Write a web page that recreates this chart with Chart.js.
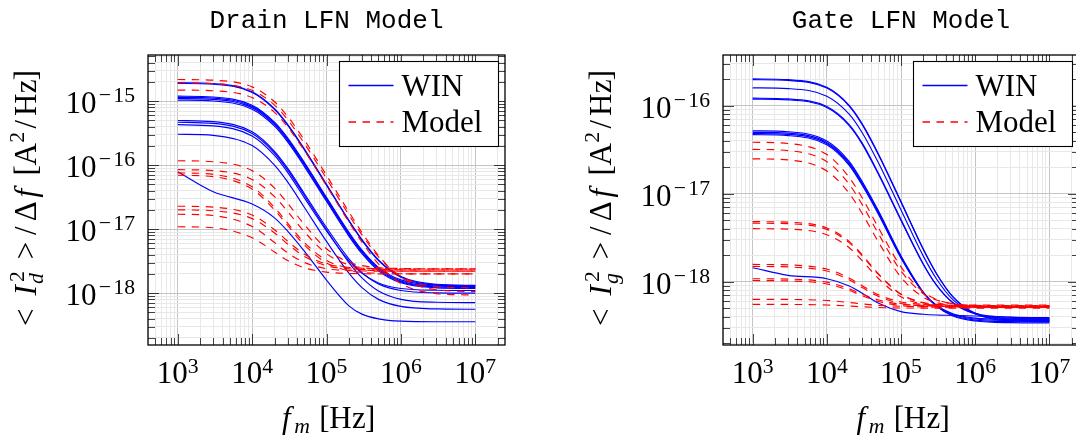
<!DOCTYPE html>
<html><head><meta charset="utf-8">
<script src="https://cdn.jsdelivr.net/npm/chart.js@4.4.0/dist/chart.umd.min.js"></script>
<style>
html,body{margin:0;padding:0;background:#fff;overflow:hidden;}
#wrap{position:relative;width:1076px;height:441px;overflow:hidden;background:#fff;}
canvas{position:absolute;top:0;}
</style></head><body>
<div id="wrap">
<canvas id="c1" width="540" height="441" style="left:0;width:540px;height:441px"></canvas>
<canvas id="c2" width="550" height="441" style="left:540px;width:550px;height:441px"></canvas>
</div>
<script>
// ---------- data ----------
const freq = [1e3, 3e3, 1e4, 2e4, 3e4, 5e4, 1e5, 2e5, 3e5, 5e5, 1e6, 3e6, 1e7];

const legendLabels = ['WIN', 'Model'];
const titles = ['Drain LFN Model', 'Gate LFN Model'];
const xTickExp = [3, 4, 5, 6, 7];
const drainYExp = [-15, -16, -17, -18];
const gateYExp = [-16, -17, -18];

// Drain – WIN
const dW1 = [1.94e-15, 1.88e-15, 1.40e-15, 7.6e-16, 4.32e-16, 1.81e-16, 5.0e-17, 1.37e-17, 6.85e-18, 3.31e-18, 1.82e-18, 1.375e-18, 1.325e-18];
const dW2 = [1.89e-15, 1.835e-15, 1.366e-15, 7.41e-16, 4.21e-16, 1.765e-16, 4.87e-17, 1.34e-17, 6.67e-18, 3.22e-18, 1.77e-18, 1.334e-18, 1.285e-18];
const dW3 = [1.195e-15, 1.159e-15, 8.63e-16, 4.68e-16, 2.66e-16, 1.115e-16, 3.13e-17, 8.93e-18, 4.70e-18, 2.53e-18, 1.61e-18, 1.334e-18, 1.303e-18];
const dW4 = [1.145e-15, 1.111e-15, 8.27e-16, 4.49e-16, 2.55e-16, 1.068e-16, 3.0e-17, 8.57e-18, 4.52e-18, 2.44e-18, 1.55e-18, 1.293e-18, 1.263e-18];
const dW5 = [1.096e-15, 1.063e-15, 7.91e-16, 4.29e-16, 2.44e-16, 1.022e-16, 2.87e-17, 8.22e-18, 4.34e-18, 2.35e-18, 1.50e-18, 1.25e-18, 1.223e-18];
const dW6 = [1.036e-15, 1.005e-15, 7.48e-16, 4.06e-16, 2.30e-16, 9.66e-17, 2.72e-17, 7.79e-18, 4.13e-18, 2.24e-18, 1.45e-18, 1.21e-18, 1.183e-18];
const dW7 = [4.98e-16, 4.78e-16, 3.31e-16, 1.645e-16, 8.95e-17, 3.64e-17, 1.06e-17, 3.44e-18, 2.09e-18, 1.39e-18, 1.10e-18, 1.011e-18, 1.001e-18];
const dW8 = [4.68e-16, 4.49e-16, 3.11e-16, 1.546e-16, 8.41e-17, 3.42e-17, 9.75e-18, 3.0e-18, 1.73e-18, 1.08e-18, 8.0e-19, 7.2e-19, 7.11e-19];
const dW9 = [4.28e-16, 4.11e-16, 2.85e-16, 1.415e-16, 7.7e-17, 3.13e-17, 9.37e-18, 3.2e-18, 2.04e-18, 1.44e-18, 1.18e-18, 1.11e-18, 1.10e-18];
const dW10 = [3.03e-16, 2.92e-16, 2.02e-16, 1.0e-16, 5.46e-17, 2.22e-17, 6.43e-18, 2.05e-18, 1.22e-18, 7.99e-19, 6.2e-19, 5.67e-19, 5.6e-19];
const dW11 = [7.87e-17, 3.83e-17, 2.46e-17, 1.50e-17, 9.3e-18, 4.58e-18, 1.60e-18, 6.34e-19, 4.70e-19, 3.97e-19, 3.65e-19, 3.57e-19, 3.57e-19];

// Drain – Model
const dM1 = [2.173e-15, 2.121e-15, 1.666e-15, 9.76e-16, 5.77e-16, 2.50e-16, 6.95e-17, 1.86e-17, 8.87e-18, 3.87e-18, 1.76e-18, 1.13e-18, 1.057e-18];
const dM2 = [1.924e-15, 1.878e-15, 1.475e-15, 8.64e-16, 5.11e-16, 2.21e-16, 6.18e-17, 1.67e-17, 8.12e-18, 3.70e-18, 1.83e-18, 1.27e-18, 1.206e-18];
const dM3 = [1.485e-15, 1.450e-15, 1.138e-15, 6.67e-16, 3.94e-16, 1.71e-16, 4.77e-17, 1.29e-17, 6.27e-18, 2.86e-18, 1.41e-18, 9.84e-19, 9.35e-19];
const dM4 = [1.17e-16, 1.13e-16, 8.2e-17, 4.38e-17, 2.54e-17, 1.19e-17, 4.93e-18, 3.04e-18, 2.69e-18, 2.50e-18, 2.43e-18, 2.40e-18, 2.40e-18];
const dM5 = [8.49e-17, 8.21e-17, 5.97e-17, 3.22e-17, 1.89e-17, 9.16e-18, 4.13e-18, 2.76e-18, 2.51e-18, 2.38e-18, 2.32e-18, 2.30e-18, 2.30e-18];
const dM6 = [7.57e-17, 7.18e-17, 4.59e-17, 2.18e-17, 1.24e-17, 6.23e-18, 3.25e-18, 2.47e-18, 2.32e-18, 2.24e-18, 2.21e-18, 2.20e-18, 2.20e-18];
const dM7 = [6.95e-17, 6.6e-17, 4.21e-17, 2.0e-17, 1.14e-17, 5.7e-18, 2.97e-18, 2.24e-18, 2.11e-18, 2.04e-18, 2.01e-18, 2.0e-18, 2.0e-18];
const dM8 = [2.28e-17, 2.21e-17, 1.66e-17, 9.78e-18, 6.5e-18, 4.09e-18, 2.85e-18, 2.52e-18, 2.45e-18, 2.42e-18, 2.40e-18, 2.40e-18, 2.40e-18];
const dM9 = [2.0e-17, 1.94e-17, 1.46e-17, 8.71e-18, 5.86e-18, 3.77e-18, 2.69e-18, 2.40e-18, 2.34e-18, 2.32e-18, 2.30e-18, 2.30e-18, 2.30e-18];
const dM10 = [1.71e-17, 1.63e-17, 1.1e-17, 6.18e-18, 4.27e-18, 3.02e-18, 2.41e-18, 2.25e-18, 2.22e-18, 2.21e-18, 2.20e-18, 2.2e-18, 2.2e-18];
const dM11 = [1.09e-17, 1.05e-17, 7.31e-18, 4.39e-18, 3.24e-18, 2.49e-18, 2.13e-18, 2.03e-18, 2.01e-18, 2.0e-18, 2.0e-18, 2.0e-18, 2.0e-18];

// Gate – WIN
const gW1 = [2.015e-16, 1.976e-16, 1.616e-16, 1.01e-16, 6.22e-17, 2.79e-17, 8.13e-18, 2.35e-18, 1.24e-18, 6.73e-19, 4.31e-19, 3.59e-19, 3.51e-19];
const gW2 = [1.975e-16, 1.936e-16, 1.584e-16, 9.9e-17, 6.09e-17, 2.73e-17, 7.98e-18, 2.32e-18, 1.24e-18, 6.77e-19, 4.39e-19, 3.69e-19, 3.61e-19];
const gW3 = [1.596e-16, 1.565e-16, 1.28e-16, 8.0e-17, 4.92e-17, 2.21e-17, 6.53e-18, 1.95e-18, 1.08e-18, 6.26e-19, 4.34e-19, 3.77e-19, 3.71e-19];
const gW4 = [1.217e-16, 1.193e-16, 9.76e-17, 6.1e-17, 3.75e-17, 1.68e-17, 5.08e-18, 1.59e-18, 9.19e-19, 5.75e-19, 4.29e-19, 3.85e-19, 3.8e-19];
const gW5 = [1.187e-16, 1.164e-16, 9.52e-17, 5.95e-17, 3.66e-17, 1.64e-17, 4.97e-18, 1.57e-18, 9.16e-19, 5.8e-19, 4.38e-19, 3.95e-19, 3.9e-19];
const gW6 = [5.18e-17, 5.06e-17, 3.97e-17, 2.33e-17, 1.376e-17, 6.3e-18, 1.97e-18, 7.58e-19, 5.27e-19, 4.07e-19, 3.57e-19, 3.42e-19, 3.4e-19];
const gW7 = [4.98e-17, 4.87e-17, 3.82e-17, 2.24e-17, 1.32e-17, 6.09e-18, 1.92e-18, 7.5e-19, 5.29e-19, 4.15e-19, 3.66e-19, 3.52e-19, 3.5e-19];
const gW8 = [4.83e-17, 4.72e-17, 3.71e-17, 2.17e-17, 1.28e-17, 5.92e-18, 1.88e-18, 7.49e-19, 5.34e-19, 4.23e-19, 3.76e-19, 3.62e-19, 3.6e-19];
const gW9 = [4.69e-17, 4.57e-17, 3.59e-17, 2.10e-17, 1.244e-17, 5.76e-18, 1.85e-18, 7.47e-19, 5.39e-19, 4.31e-19, 3.85e-19, 3.72e-19, 3.7e-19];
const gW10 = [1.44e-18, 1.18e-18, 1.08e-18, 8.93e-19, 7.37e-19, 5.67e-19, 4.56e-19, 4.26e-19, 4.18e-19, 4.14e-19, 4.07e-19, 3.94e-19, 3.83e-19];

// Gate – Model
const gM1 = [3.84e-17, 3.72e-17, 2.78e-17, 1.53e-17, 8.94e-18, 4.05e-18, 1.47e-18, 7.62e-19, 6.28e-19, 5.59e-19, 5.3e-19, 5.2e-19, 5.2e-19];
const gM2 = [3.19e-17, 3.09e-17, 2.31e-17, 1.28e-17, 7.51e-18, 3.46e-18, 1.32e-18, 7.3e-19, 6.19e-19, 5.62e-19, 5.38e-19, 5.31e-19, 5.3e-19];
const gM3 = [2.49e-17, 2.42e-17, 1.81e-17, 1.01e-17, 5.94e-18, 2.79e-18, 1.12e-18, 6.66e-19, 5.79e-19, 5.35e-19, 5.16e-19, 5.1e-19, 5.1e-19];
const gM4 = [4.81e-18, 4.74e-18, 4.08e-18, 2.87e-18, 2.02e-18, 1.22e-18, 7.19e-19, 5.71e-19, 5.43e-19, 5.28e-19, 5.22e-19, 5.2e-19, 5.2e-19];
const gM5 = [4.62e-18, 4.56e-18, 3.93e-18, 2.78e-18, 1.96e-18, 1.2e-18, 7.19e-19, 5.79e-19, 5.52e-19, 5.38e-19, 5.32e-19, 5.3e-19, 5.3e-19];
const gM6 = [4.0e-18, 3.95e-18, 3.41e-18, 2.43e-18, 1.73e-18, 1.08e-18, 6.72e-19, 5.52e-19, 5.29e-19, 5.17e-19, 5.12e-19, 5.1e-19, 5.1e-19];
const gM7 = [1.57e-18, 1.55e-18, 1.39e-18, 1.10e-18, 9.0e-19, 7.07e-19, 5.88e-19, 5.52e-19, 5.46e-19, 5.42e-19, 5.4e-19, 5.4e-19, 5.4e-19];
const gM8 = [1.49e-18, 1.47e-18, 1.32e-18, 1.05e-18, 8.59e-19, 6.77e-19, 5.65e-19, 5.32e-19, 5.25e-19, 5.22e-19, 5.2e-19, 5.2e-19, 5.2e-19];
const gM9 = [1.08e-18, 1.07e-18, 9.86e-19, 8.31e-19, 7.22e-19, 6.19e-19, 5.55e-19, 5.37e-19, 5.33e-19, 5.31e-19, 5.3e-19, 5.3e-19, 5.3e-19];
const gM10 = [1.03e-18, 1.02e-18, 9.41e-19, 7.95e-19, 6.92e-19, 5.94e-19, 5.34e-19, 5.16e-19, 5.13e-19, 5.11e-19, 5.1e-19, 5.1e-19, 5.1e-19];
const gM11 = [6.3e-19, 6.28e-19, 6.11e-19, 5.8e-19, 5.58e-19, 5.38e-19, 5.25e-19, 5.21e-19, 5.2e-19, 5.2e-19, 5.2e-19, 5.2e-19, 5.2e-19];
const gM12 = [5.52e-19, 5.51e-19, 5.43e-19, 5.28e-19, 5.18e-19, 5.08e-19, 5.02e-19, 5.01e-19, 5.0e-19, 5.0e-19, 5.0e-19, 5.0e-19, 5.0e-19];

const drainWin = [dW1, dW2, dW3, dW4, dW5, dW6, dW7, dW8, dW9, dW10, dW11];
const drainModel = [dM1, dM2, dM3, dM4, dM5, dM6, dM7, dM8, dM9, dM10, dM11];
const gateWin = [gW1, gW2, gW3, gW4, gW5, gW6, gW7, gW8, gW9, gW10];
const gateModel = [gM1, gM2, gM3, gM4, gM5, gM6, gM7, gM8, gM9, gM10, gM11, gM12];

// ---------- styling helpers ----------
const SERIF = '"Liberation Serif", "Times New Roman", "DejaVu Serif", serif';
const MONO = '"Liberation Mono", "DejaVu Sans Mono", monospace';
const BLUE = '#0000ff', RED = '#ff0000';
const DASH = [7.5, 6.5];
const BIG = 31, SMALL = 21.7;

function fontOf(size, italic) { return (italic ? 'italic ' : '') + size + 'px ' + SERIF; }

function richLayout(ctx, items) {
  let w = 0;
  const laid = items.map(it => {
    if (it.gap) { const o = { gap: it.gap, x: w }; w += it.gap; return o; }
    if (it.stack) {
      let mw = 0;
      it.stack.forEach(p => { ctx.font = fontOf(it.size, p.italic); mw = Math.max(mw, ctx.measureText(p.t).width); });
      const slot = it.em ? it.em * it.size : mw;
      const o = Object.assign({}, it, { x: w, slot }); w += slot; return o;
    }
    ctx.font = fontOf(it.size, it.italic);
    const mw = ctx.measureText(it.t).width;
    const slot = it.em ? it.em * it.size : mw;
    const o = Object.assign({}, it, { x: w, slot, mw }); w += slot; return o;
  });
  return { laid, w };
}
function drawRich(ctx, items, x, y, align) {
  const { laid, w } = richLayout(ctx, items);
  const x0 = align === 'center' ? x - w / 2 : (align === 'right' ? x - w : x);
  ctx.textBaseline = 'alphabetic'; ctx.textAlign = 'left'; ctx.fillStyle = '#000';
  laid.forEach(o => {
    if (o.gap) return;
    if (o.stack) {
      o.stack.forEach(p => { ctx.font = fontOf(o.size, p.italic); ctx.fillText(p.t, x0 + o.x + (p.dx || 0), y + p.dy); });
      return;
    }
    ctx.font = fontOf(o.size, o.italic);
    ctx.fillText(o.t, x0 + o.x + (o.slot - o.mw) / 2, y + (o.dy || 0));
  });
}

function logTicks(min, max) {
  const out = [];
  const k0 = Math.floor(Math.log10(min)), k1 = Math.ceil(Math.log10(max));
  for (let k = k0; k <= k1; k++) {
    for (let m = 1; m <= 9; m++) {
      const v = m * Math.pow(10, k);
      if (v >= min * 0.9999 && v <= max * 1.0001) out.push({ value: v, major: m === 1 });
    }
  }
  return out;
}

const decor = {
  id: 'decor',
  afterDraw(chart, args, opts) {
    const { ctx, chartArea: a } = chart;
    const xs = chart.scales.x, ys = chart.scales.y;
    ctx.save();
    // inner tick marks on all four sides
    ctx.strokeStyle = 'rgba(0,0,0,0.72)'; ctx.lineWidth = 1;
    ctx.beginPath();
    xs.ticks.forEach(t => {
      const px = Math.round(xs.getPixelForValue(t.value)) + 0.5;
      if (px < a.left + 1.5 || px > a.right - 1.5) return;
      const len = t.major ? 11 : 7;
      ctx.moveTo(px, a.top); ctx.lineTo(px, a.top + len);
      ctx.moveTo(px, a.bottom); ctx.lineTo(px, a.bottom - len);
    });
    ys.ticks.forEach(t => {
      const py = Math.round(ys.getPixelForValue(t.value)) + 0.5;
      if (py < a.top + 1.5 || py > a.bottom - 1.5) return;
      const len = t.major ? 11 : 7;
      ctx.moveTo(a.left, py); ctx.lineTo(a.left + len, py);
      ctx.moveTo(a.right, py); ctx.lineTo(a.right - len, py);
    });
    ctx.stroke();
    // frame
    ctx.strokeStyle = '#000'; ctx.lineWidth = 1.3;
    ctx.strokeRect(a.left, a.top, a.right - a.left, a.bottom - a.top);

    // legend
    const bw = 159, bh = 85;
    const bx = Math.round(a.right - 7 - bw) + 0.5, by = Math.round(a.top + 6) + 0.5;
    ctx.fillStyle = '#fff'; ctx.fillRect(bx, by, bw, bh);
    ctx.strokeStyle = '#000'; ctx.lineWidth = 1.1; ctx.strokeRect(bx, by, bw, bh);
    const rows = [{ c: BLUE, d: [], y: 24 }, { c: RED, d: DASH, y: 60.5 }];
    rows.forEach((r, i) => {
      ctx.strokeStyle = r.c; ctx.lineWidth = 1.3; ctx.setLineDash(r.d);
      ctx.beginPath(); ctx.moveTo(bx + 9, by + r.y); ctx.lineTo(bx + 54, by + r.y); ctx.stroke();
      ctx.setLineDash([]);
      ctx.fillStyle = '#000'; ctx.font = fontOf(BIG, false); ctx.textAlign = 'left'; ctx.textBaseline = 'alphabetic';
      ctx.fillText(legendLabels[i], bx + 62, by + r.y + 10);
    });

    // x tick labels
    xTickExp.forEach(e => {
      const px = xs.getPixelForValue(Math.pow(10, e));
      drawRich(ctx, [{ t: '10', size: BIG }, { t: String(e), size: SMALL, dy: -10 }], px, a.bottom + 38, 'center');
    });
    // y tick labels
    opts.yExp.forEach(e => {
      const py = ys.getPixelForValue(Math.pow(10, e));
      drawRich(ctx, [{ t: '10', size: BIG }, { t: '\u2212', size: SMALL, em: 0.778, dy: -11 }, { t: String(-e), size: SMALL, dy: -11 }], a.left - 13, py + 12, 'right');
    });

    // x axis title
    drawRich(ctx, [
      { t: 'f', size: BIG, italic: true, em: 0.5 },
      { t: 'm', size: SMALL, italic: true, dy: 5 },
      { gap: 10.3 },
      { t: '[', size: BIG, em: 0.278 }, { t: 'H', size: BIG, em: 0.75 }, { t: 'z', size: BIG, em: 0.444 }, { t: ']', size: BIG, em: 0.278 }
    ], (a.left + a.right) / 2, a.bottom + 83, 'center');

    // y axis title (rotated)
    ctx.save();
    ctx.translate(a.left - 112, (a.top + a.bottom) / 2);
    ctx.rotate(-Math.PI / 2);
    drawRich(ctx, [
      { t: '<', size: BIG, em: 0.778 }, { gap: 8.6 },
      { t: 'I', size: BIG, italic: true, em: 0.4 },
      { stack: [{ t: '2', dy: -12, dx: 2 }, { t: opts.sub, italic: true, dy: 7 }], size: SMALL, em: 0.6 },
      { gap: 8.6 },
      { t: '>', size: BIG, em: 0.778 },
      { t: '/', size: BIG, em: 0.5 },
      { t: '\u0394', size: BIG, em: 0.75 },
      { t: 'f', size: BIG, italic: true, em: 0.42 },
      { gap: 12 },
      { t: '[', size: BIG, em: 0.278 }, { t: 'A', size: BIG, em: 0.75 },
      { t: '2', size: SMALL, em: 0.5, dy: -12 },
      { t: '/', size: BIG, em: 0.5 }, { t: 'H', size: BIG, em: 0.75 }, { t: 'z', size: BIG, em: 0.444 }, { t: ']', size: BIG, em: 0.278 }
    ], 0, 0, 'center');
    ctx.restore();

    // chart title
    ctx.fillStyle = '#000'; ctx.font = '26px ' + MONO; ctx.textAlign = 'center'; ctx.textBaseline = 'alphabetic';
    ctx.fillText(opts.title, (a.left + a.right) / 2, 28);
    ctx.restore();
  }
};

function makeChart(id, pad, win, model, yMin, yMax, yExp, title, sub) {
  const datasets = [];
  win.forEach(arr => datasets.push({
    label: legendLabels[0], data: arr.map((v, i) => ({ x: freq[i], y: v })),
    borderColor: BLUE, borderWidth: 1.15, pointRadius: 0, fill: false, order: 1,
    cubicInterpolationMode: 'monotone'
  }));
  model.forEach(arr => datasets.push({
    label: legendLabels[1], data: arr.map((v, i) => ({ x: freq[i], y: v })),
    borderColor: RED, borderWidth: 1.15, borderDash: DASH, pointRadius: 0, fill: false, order: 0,
    cubicInterpolationMode: 'monotone'
  }));
  const gridCfg = {
    color: c => (c.tick && c.tick.major) ? '#c4c4c4' : '#e8e8e8',
    lineWidth: 1, drawTicks: false
  };
  return new Chart(document.getElementById(id), {
    type: 'line',
    data: { datasets },
    options: {
      responsive: false, animation: false, events: [],
      layout: { padding: pad },
      plugins: { legend: { display: false }, tooltip: { enabled: false }, title: { display: false },
        decor: { title, sub, yExp } },
      scales: {
        x: { type: 'logarithmic', min: Math.pow(10, 2.6), max: Math.pow(10, 7.4),
          ticks: { display: false, autoSkip: false }, grid: gridCfg, border: { display: false },
          afterBuildTicks: s => { s.ticks = logTicks(s.min, s.max); },
          afterFit: s => { s.height = 0; } },
        y: { type: 'logarithmic', min: Math.pow(10, yMin), max: Math.pow(10, yMax),
          ticks: { display: false, autoSkip: false }, grid: gridCfg, border: { display: false },
          afterBuildTicks: s => { s.ticks = logTicks(s.min, s.max); },
          afterFit: s => { s.width = 0; } }
      }
    },
    plugins: [decor]
  });
}

makeChart('c1', { left: 148, top: 55, right: 35, bottom: 96 }, drainWin, drainModel, -18.81, -14.28, drainYExp, titles[0], 'd');
makeChart('c2', { left: 183, top: 55, right: 11, bottom: 96 }, gateWin, gateModel, -18.72, -15.424, gateYExp, titles[1], 'g');
</script>
</body></html>
